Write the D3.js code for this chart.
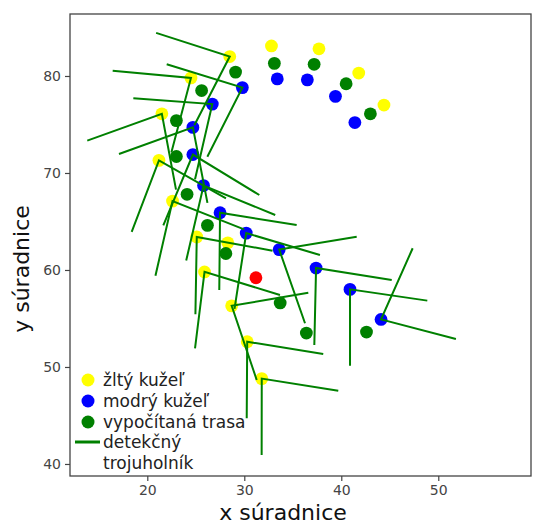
<!DOCTYPE html>
<html>
<head>
<meta charset="utf-8">
<script src="https://cdn.jsdelivr.net/npm/d3@7"></script>
<style>
  html, body { margin: 0; padding: 0; background: #fff; }
  svg { display: block; font-family: "DejaVu Sans", sans-serif; }
</style>
</head>
<body>
<svg id="chart" width="533" height="527"></svg>
<script>
// Yellow cones (left track boundary)
const yellowX = [28.5, 24.5, 21.5, 21.2, 22.6, 25.1, 28.3, 25.9, 28.7, 30.3, 31.8, 32.8, 37.7, 41.8, 44.4];
const yellowY = [82.0, 79.8, 76.1, 71.3, 67.1, 63.4, 62.8, 59.8, 56.3, 52.6, 48.8, 83.1, 82.8, 80.3, 77.0];
// Blue cones (right track boundary)
const blueX = [29.8, 26.7, 24.7, 24.7, 25.8, 27.5, 30.2, 33.6, 37.4, 40.9, 44.1, 33.4, 36.5, 39.4, 41.4];
const blueY = [78.8, 77.1, 74.7, 71.9, 68.7, 65.9, 63.8, 62.1, 60.2, 58.0, 54.9, 79.7, 79.6, 77.9, 75.2];
// Computed path points
const pathX = [29.1, 25.6, 23.0, 23.0, 24.1, 26.2, 28.1, 33.7, 36.4, 42.6, 33.1, 37.2, 40.5, 43.0];
const pathY = [80.4, 78.5, 75.4, 71.7, 67.8, 64.6, 61.7, 56.6, 53.5, 53.6, 81.3, 81.2, 79.2, 76.1];
// Vehicle position
const carX = [31.2];
const carY = [59.2];
// Detection triangles: first arm end, apex (at a cone), second arm end
const triEnd1X = [24.85, 26.19, 22.48, 24.92, 22.96, 26.20, 28.11, 31.55, 29.98, 33.19, 32.91, 35.40, 37.80, 41.59, 33.68, 36.60, 38.14, 39.69, 45.20, 48.87, 47.36];
const triEnd1Y = [74.92, 71.68, 72.12, 69.35, 68.28, 66.92, 67.37, 67.73, 64.18, 65.67, 61.99, 64.64, 61.55, 63.43, 57.42, 57.66, 51.34, 47.56, 58.97, 56.84, 62.24];
const triApexX = [28.5, 29.8, 24.5, 26.7, 21.5, 24.7, 21.2, 24.7, 22.6, 25.8, 25.1, 27.5, 30.2, 33.6, 25.9, 28.7, 30.3, 31.8, 37.4, 40.9, 44.1];
const triApexY = [82.0, 78.8, 79.8, 77.1, 76.1, 74.7, 71.3, 71.9, 67.1, 68.7, 63.4, 65.9, 63.8, 62.1, 59.8, 56.3, 52.6, 48.8, 60.2, 58.0, 54.9];
const triEnd2X = [20.91, 22.00, 16.43, 18.56, 13.81, 17.08, 18.39, 21.65, 20.84, 24.01, 24.96, 27.42, 28.99, 36.26, 24.92, 31.28, 30.25, 31.79, 37.22, 40.90, 51.82];
const triEnd2Y = [84.44, 81.21, 80.55, 77.70, 73.33, 71.96, 63.93, 64.59, 59.41, 60.97, 55.43, 57.94, 55.98, 54.51, 51.93, 48.66, 44.71, 40.93, 52.27, 50.13, 52.89];
// Axis ticks
const xTicks = [20, 30, 40, 50];
const yTicks = [40, 50, 60, 70, 80];
// Legend entries
const legendLabels = ["žltý kužeľ", "modrý kužeľ", "vypočítaná trasa", "detekčný\ntrojuholník"];

const svg = d3.select("#chart");
const plotLeft = 70, plotRight = 531, plotTop = 14, plotBottom = 476;

const x = d3.scaleLinear().domain([12.03, 59.56]).range([plotLeft, plotRight]);
const y = d3.scaleLinear().domain([38.76, 86.39]).range([plotBottom, plotTop]);

const zip = (xs, ys) => xs.map((v, i) => [v, ys[i]]);

// Axes
const xAxis = d3.axisBottom(x).tickValues(xTicks).tickSize(5).tickPadding(4);
const yAxis = d3.axisLeft(y).tickValues(yTicks).tickSize(5).tickPadding(4);

const gx = svg.append("g").attr("transform", `translate(0,${plotBottom})`).call(xAxis);
const gy = svg.append("g").attr("transform", `translate(${plotLeft},0)`).call(yAxis);
[gx, gy].forEach(g => {
  g.select(".domain").remove();
  g.selectAll(".tick line").attr("stroke", "#444").attr("stroke-width", 1.2);
  g.selectAll(".tick text").attr("fill", "#444").style("font-size", "14px")
    .style("font-family", "DejaVu Sans, sans-serif");
});

// Frame
svg.append("rect")
  .attr("x", plotLeft).attr("y", plotTop)
  .attr("width", plotRight - plotLeft).attr("height", plotBottom - plotTop)
  .attr("fill", "none").attr("stroke", "#444").attr("stroke-width", 1.3);

const plot = svg.append("g");
const r = 6.4;

function dots(xs, ys, color) {
  plot.append("g").selectAll("circle").data(zip(xs, ys)).join("circle")
    .attr("cx", d => x(d[0])).attr("cy", d => y(d[1]))
    .attr("r", r).attr("fill", color);
}
dots(yellowX, yellowY, "#ffff00");
dots(blueX, blueY, "#0000ff");
dots(pathX, pathY, "#008000");
dots(carX, carY, "#ff0000");

// Detection triangles
const line = d3.line().x(d => x(d[0])).y(d => y(d[1]));
const tris = triApexX.map((_, i) => [
  [triEnd1X[i], triEnd1Y[i]],
  [triApexX[i], triApexY[i]],
  [triEnd2X[i], triEnd2Y[i]]
]);
plot.append("g").selectAll("path").data(tris).join("path")
  .attr("d", line)
  .attr("fill", "none").attr("stroke", "#008000").attr("stroke-width", 2)
  .attr("stroke-linejoin", "miter");

// Axis titles
svg.append("text").attr("x", 283).attr("y", 520).attr("text-anchor", "middle")
  .style("font-size", "22px").attr("fill", "#111").text("x súradnice");
svg.append("text").attr("transform", "translate(29,269) rotate(-90)")
  .attr("text-anchor", "middle").style("font-size", "22px").attr("fill", "#111")
  .text("y súradnice");

// Legend
const lg = svg.append("g");
const legendColors = ["#ffff00", "#0000ff", "#008000"];
const rowY = [380, 401, 422, 442];
legendColors.forEach((c, i) => {
  lg.append("circle").attr("cx", 88).attr("cy", rowY[i]).attr("r", 6.5).attr("fill", c);
});
lg.append("line").attr("x1", 75).attr("x2", 100).attr("y1", rowY[3]).attr("y2", rowY[3])
  .attr("stroke", "#008000").attr("stroke-width", 3);
legendLabels.forEach((t, i) => {
  const parts = t.split("\n");
  parts.forEach((p, j) => {
    lg.append("text").attr("x", 103).attr("y", rowY[i] + 6 + j * 21)
      .style("font-size", "17px").attr("fill", "#222").text(p);
  });
});
</script>
</body>
</html>
